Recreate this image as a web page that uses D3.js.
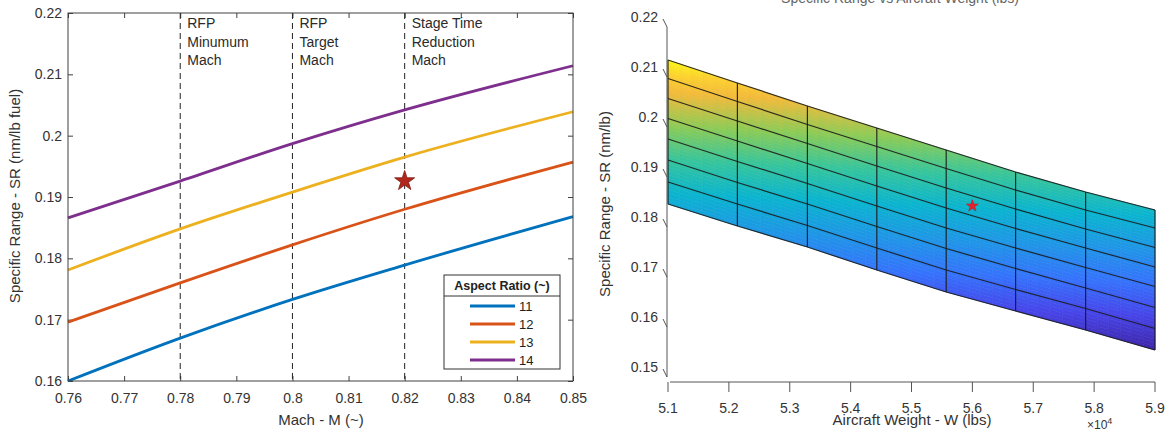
<!DOCTYPE html>
<html>
<head>
<meta charset="utf-8">
<script src="https://cdn.jsdelivr.net/npm/d3@7"></script>
<style>
  body { margin: 0; background: #fff; }
  svg { display: block; font-family: "Liberation Sans", Arial, Helvetica, sans-serif; }
</style>
</head>
<body>
<svg id="chart" width="1171" height="436"></svg>
<script>
// ---------- Left panel: SR vs Mach for several aspect ratios ----------
const machSamples = [0.76, 0.78, 0.80, 0.82, 0.85];
const aspectRatios = ["11", "12", "13", "14"];
const srAR11 = [0.1600, 0.1670, 0.1733, 0.1789, 0.1868];
const srAR12 = [0.1696, 0.1760, 0.1822, 0.1880, 0.1957];
const srAR13 = [0.1781, 0.1848, 0.1908, 0.1965, 0.2039];
const srAR14 = [0.1866, 0.1926, 0.1987, 0.2042, 0.2114];
const seriesColors = ["#0072BD", "#D95319", "#EDB120", "#7E2F8E"];
const machTicks = [0.76, 0.77, 0.78, 0.79, 0.80, 0.81, 0.82, 0.83, 0.84, 0.85];
const srTicksLeft = [0.16, 0.17, 0.18, 0.19, 0.20, 0.21, 0.22];
const machMarkers = [0.78, 0.80, 0.82];
const machMarkerLabels = [
  ["RFP", "Minumum", "Mach"],
  ["RFP", "Target", "Mach"],
  ["Stage Time", "Reduction", "Mach"]
];
const designPoint = { mach: 0.82, sr: 0.1926 };

// ---------- Right panel: SR surface over aircraft weight ----------
const weights = [51000, 52140, 53290, 54430, 55570, 56710, 57860, 59000];
const levels = [1, 2, 3, 4, 5, 6, 7, 8];
// one row per level, one value per weight
const srLevel1 = [0.2134, 0.2088, 0.2042, 0.1998, 0.1954, 0.1910, 0.1870, 0.1834];
const srLevel2 = [0.2090, 0.2044, 0.1998, 0.1954, 0.1910, 0.1867, 0.1827, 0.1791];
const srLevel3 = [0.2043, 0.1998, 0.1953, 0.1908, 0.1864, 0.1822, 0.1782, 0.1745];
const srLevel4 = [0.1996, 0.1951, 0.1906, 0.1861, 0.1817, 0.1776, 0.1737, 0.1699];
const srLevel5 = [0.1948, 0.1903, 0.1859, 0.1814, 0.1770, 0.1730, 0.1691, 0.1653];
const srLevel6 = [0.1899, 0.1854, 0.1811, 0.1766, 0.1722, 0.1682, 0.1643, 0.1604];
const srLevel7 = [0.1848, 0.1804, 0.1761, 0.1716, 0.1672, 0.1633, 0.1595, 0.1555];
const srLevel8 = [0.1797, 0.1753, 0.1711, 0.1665, 0.1621, 0.1583, 0.1545, 0.1505];
const weightTicks = [51000, 52000, 53000, 54000, 55000, 56000, 57000, 58000, 59000];
const srTicksRight = [0.15, 0.16, 0.17, 0.18, 0.19, 0.20, 0.21, 0.22];
const weightPoint = { weight: 56000, level: 3, sr: 0.1828 };
// parula-style colormap: stop positions (0..1) and colours
const parulaPos = [0, 0.125, 0.25, 0.375, 0.5, 0.625, 0.75, 0.875, 0.94, 1];
const parulaStops = ["#3e26a8", "#4745e9", "#3573fc", "#1f96e6", "#0ab4cf",
                     "#36c59c", "#8ccb56", "#f3ba3a", "#fcd12e", "#f9fb15"];

const svg = d3.select("#chart");
const axisColor = "#404040";
const textColor = "#333";
const fmt = d => d3.format("~g")(+d.toFixed(4));

// ================= Left panel =================
const xM = d3.scaleLinear().domain([0.76, 0.85]).range([68, 573]);
const yL = d3.scaleLinear().domain([0.16, 0.22]).range([381, 13]);
const left = svg.append("g");

function styleAxis(g, showText) {
  g.select(".domain").remove();
  g.selectAll(".tick line").attr("stroke", axisColor);
  g.selectAll(".tick text").attr("fill", textColor).style("font-size", "14px")
    .style("font-family", "'Liberation Sans', Arial, sans-serif");
  if (!showText) g.selectAll(".tick text").remove();
}

left.append("g").attr("transform", "translate(0,381)")
  .call(d3.axisBottom(xM).tickValues(machTicks).tickFormat(fmt).tickSize(-5).tickPadding(12))
  .call(g => styleAxis(g, true));
left.append("g").attr("transform", "translate(0,13)")
  .call(d3.axisTop(xM).tickValues(machTicks).tickSize(-5))
  .call(g => styleAxis(g, false));
left.append("g").attr("transform", "translate(68,0)")
  .call(d3.axisLeft(yL).tickValues(srTicksLeft).tickFormat(fmt).tickSize(-5).tickPadding(6))
  .call(g => styleAxis(g, true));
left.append("g").attr("transform", "translate(573,0)")
  .call(d3.axisRight(yL).tickValues(srTicksLeft).tickSize(-5))
  .call(g => styleAxis(g, false));

// reference Mach lines with their captions
machMarkers.forEach((m, k) => {
  left.append("line")
    .attr("x1", xM(m)).attr("x2", xM(m))
    .attr("y1", yL(0.22)).attr("y2", yL(0.16))
    .attr("stroke", "#222").attr("stroke-width", 1).attr("stroke-dasharray", "6,4");
  machMarkerLabels[k].forEach((t, r) => {
    left.append("text")
      .attr("x", xM(m) + 7).attr("y", 28 + r * 18.5)
      .attr("fill", "#2a2a2a").style("font-size", "14px").text(t);
  });
});

// SR curves
const srSeries = [srAR11, srAR12, srAR13, srAR14];
const lineGen = d3.line().x(d => xM(d[0])).y(d => yL(d[1])).curve(d3.curveMonotoneX);
srSeries.forEach((vals, k) => {
  left.append("path")
    .datum(machSamples.map((m, i) => [m, vals[i]]))
    .attr("d", lineGen)
    .attr("fill", "none").attr("stroke", seriesColors[k]).attr("stroke-width", 2.8);
});

// selected design point
left.append("path")
  .attr("d", d3.symbol(d3.symbolStar).size(125)())
  .attr("transform", `translate(${xM(designPoint.mach)},${yL(designPoint.sr)})`)
  .attr("fill", "#b3261c").attr("stroke", "#7a1a12").attr("stroke-width", 0.8);

// axes box
left.append("rect").attr("x", 68).attr("y", 13).attr("width", 505).attr("height", 368)
  .attr("fill", "none").attr("stroke", axisColor).attr("stroke-width", 1);

// axis titles
left.append("text").attr("x", 321).attr("y", 425).attr("text-anchor", "middle")
  .attr("fill", textColor).style("font-size", "15px").text("Mach - M (~)");
left.append("text").attr("transform", "translate(20,196) rotate(-90)")
  .attr("text-anchor", "middle").attr("fill", textColor).style("font-size", "15px")
  .text("Specific Range - SR (nm/lb fuel)");

// legend
const lg = left.append("g");
lg.append("rect").attr("x", 444).attr("y", 275).attr("width", 116).attr("height", 94)
  .attr("fill", "#fff").attr("stroke", "#333").attr("stroke-width", 1);
lg.append("line").attr("x1", 444).attr("x2", 560).attr("y1", 296).attr("y2", 296)
  .attr("stroke", "#333").attr("stroke-width", 1);
lg.append("text").attr("x", 502).attr("y", 290).attr("text-anchor", "middle")
  .attr("fill", "#222").style("font-size", "12.5px").style("font-weight", "bold")
  .text("Aspect Ratio (~)");
aspectRatios.forEach((ar, k) => {
  const yy = 306 + k * 18;
  lg.append("line").attr("x1", 470).attr("x2", 515).attr("y1", yy).attr("y2", yy)
    .attr("stroke", seriesColors[k]).attr("stroke-width", 2.8);
  lg.append("text").attr("x", 519).attr("y", yy + 4.5)
    .attr("fill", "#222").style("font-size", "13px").text(ar);
});

// ================= Right panel =================
const srGrid = [srLevel1, srLevel2, srLevel3, srLevel4, srLevel5, srLevel6, srLevel7, srLevel8];
const xW = d3.scaleLinear().domain([51000, 59000]).range([668, 1155]);
const zS = d3.scaleLinear().domain([0.15, 0.22]).range([377, 27]);
const depth = d3.scaleLinear().domain([1, 8]).range([0, -24.5]);   // far levels sit higher
const srExtent = d3.extent(srGrid.flat());
const parula = d3.scaleLinear()
  .domain(parulaPos.map(p => srExtent[0] + (srExtent[1] - srExtent[0]) * p))
  .range(parulaStops).interpolate(d3.interpolateRgb).clamp(true);
const project = (w, lev, sr) => [xW(w), zS(sr) + depth(lev)];

const right = svg.append("g");
const surf = right.append("g");
const N = 6; // sub-facets per cell edge for smooth colour interpolation
const lerp = (a, b, t) => a + (b - a) * t;
for (let j = 0; j < levels.length - 1; j++) {
  for (let i = 0; i < weights.length - 1; i++) {
    const s00 = srGrid[j][i], s10 = srGrid[j][i + 1], s01 = srGrid[j + 1][i], s11 = srGrid[j + 1][i + 1];
    const pt = (u, v) => {
      const w = lerp(weights[i], weights[i + 1], u);
      const lev = lerp(levels[j], levels[j + 1], v);
      const sr = lerp(lerp(s00, s10, u), lerp(s01, s11, u), v);
      return { p: project(w, lev, sr), sr };
    };
    for (let a = 0; a < N; a++) {
      for (let b = 0; b < N; b++) {
        const u0 = a / N, u1 = (a + 1) / N, v0 = b / N, v1 = (b + 1) / N;
        const c = parula(pt((u0 + u1) / 2, (v0 + v1) / 2).sr);
        const poly = [pt(u0, v0).p, pt(u1, v0).p, pt(u1, v1).p, pt(u0, v1).p];
        surf.append("path").attr("d", "M" + poly.map(q => q.join(",")).join("L") + "Z")
          .attr("fill", c).attr("stroke", c).attr("stroke-width", 0.6);
      }
    }
  }
}
// mesh edges
const edge = d3.line();
srGrid.forEach((row, j) => {
  right.append("path").attr("d", edge(weights.map((w, i) => project(w, levels[j], row[i]))))
    .attr("fill", "none").attr("stroke", "#1a1a1a").attr("stroke-width", 1.2).attr("stroke-opacity", 0.9);
});
weights.forEach((w, i) => {
  right.append("path").attr("d", edge(levels.map((lev, j) => project(w, lev, srGrid[j][i]))))
    .attr("fill", "none").attr("stroke", "#1a1a1a").attr("stroke-width", 1.2).attr("stroke-opacity", 0.9);
});

// operating point on the surface
const wp = project(weightPoint.weight, weightPoint.level, weightPoint.sr);
right.append("path")
  .attr("d", d3.symbol(d3.symbolStar).size(45)())
  .attr("transform", `translate(${wp[0]},${wp[1]})`)
  .attr("fill", "#e3232c").attr("stroke", "#b01820").attr("stroke-width", 0.5);

// vertical (SR) axis
const zAxisX = 667;
right.append("line").attr("x1", zAxisX).attr("x2", zAxisX)
  .attr("y1", zS(0.22)).attr("y2", zS(0.15)).attr("stroke", "#555").attr("stroke-width", 1);
srTicksRight.forEach(v => {
  const y = zS(v);
  right.append("line").attr("x1", zAxisX - 4).attr("y1", y - 8).attr("x2", zAxisX).attr("y2", y)
    .attr("stroke", "#555").attr("stroke-width", 1);
  right.append("text").attr("x", zAxisX - 9).attr("y", y - 10).attr("dy", "0.35em")
    .attr("text-anchor", "end").attr("fill", textColor).style("font-size", "14px").text(fmt(v));
});

// horizontal (weight) axis
const xAxisY = zS(0.15) + 5;
right.append("line").attr("x1", 670).attr("x2", 1155).attr("y1", xAxisY).attr("y2", xAxisY)
  .attr("stroke", "#555").attr("stroke-width", 1);
weightTicks.forEach(w => {
  const x = xW(w);
  right.append("line").attr("x1", x).attr("x2", x).attr("y1", xAxisY).attr("y2", xAxisY + 10)
    .attr("stroke", "#555").attr("stroke-width", 1);
  right.append("text").attr("x", x).attr("y", xAxisY + 26).attr("dy", "0.35em")
    .attr("text-anchor", "middle").attr("fill", textColor).style("font-size", "14px").text(fmt(w / 1e4));
});
const exp = right.append("text").attr("x", 1087).attr("y", 429)
  .attr("fill", textColor).style("font-size", "12px");
exp.append("tspan").text("\u00d710");
exp.append("tspan").attr("dy", -5).style("font-size", "9px").text("4");

// axis titles and (partly clipped) title
right.append("text").attr("x", 912).attr("y", 425).attr("text-anchor", "middle")
  .attr("fill", textColor).style("font-size", "15px").text("Aircraft Weight - W (lbs)");
right.append("text").attr("transform", "translate(610,204) rotate(-90)")
  .attr("text-anchor", "middle").attr("fill", textColor).style("font-size", "15px")
  .text("Specific Range - SR (nm/lb)");
right.append("text").attr("x", 900).attr("y", 3).attr("text-anchor", "middle")
  .attr("fill", "#666").style("font-size", "14px")
  .text("Specific Range vs Aircraft Weight (lbs)");
</script>
</body>
</html>
